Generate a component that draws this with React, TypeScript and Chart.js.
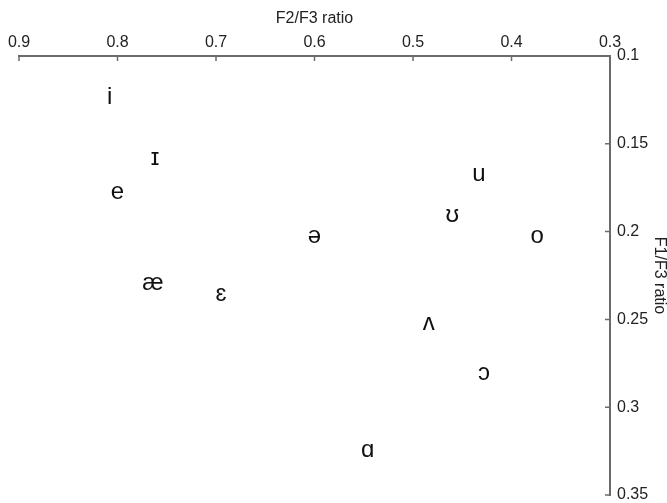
import React, { useEffect, useRef } from "react";
import { Chart, registerables } from "chart.js";

Chart.register(...registerables);

const vowels = ["i", "ɪ", "e", "ə", "æ", "ɛ", "u", "ʊ", "o", "ʌ", "ɔ", "ɑ"];
const f2f3 = [0.808, 0.762, 0.8, 0.6, 0.764, 0.695, 0.433, 0.46, 0.374, 0.484, 0.428, 0.546];
const f1f3 = [0.1235, 0.1585, 0.1775, 0.203, 0.2295, 0.2355, 0.1675, 0.191, 0.2025, 0.252, 0.2805, 0.3245];
const xTicks = [0.9, 0.8, 0.7, 0.6, 0.5, 0.4, 0.3];
const yTicks = [0.1, 0.15, 0.2, 0.25, 0.3, 0.35];

const FONT = "'Liberation Sans', Arial, sans-serif";
const AXIS_COLOR = "#6b6b6b";
const TEXT_COLOR = "#222";

const labelPlugin = {
  id: "vowelLabels",
  afterDatasetsDraw(chart: any) {
    const ctx = chart.ctx;
    const meta = chart.getDatasetMeta(0);
    ctx.save();
    ctx.fillStyle = "#111";
    ctx.font = `24px ${FONT}`;
    ctx.textAlign = "center";
    ctx.textBaseline = "middle";
    meta.data.forEach((el: any, i: number) => {
      ctx.fillText(vowels[i], el.x, el.y);
    });
    ctx.restore();
  },
};

const tickPlugin = {
  id: "innerTicks",
  afterDraw(chart: any) {
    const ctx = chart.ctx;
    const xs = chart.scales.x;
    const ys = chart.scales.y;
    const area = chart.chartArea;
    ctx.save();
    ctx.strokeStyle = AXIS_COLOR;
    ctx.lineWidth = 1.5;
    ctx.beginPath();
    xTicks.forEach((v) => {
      const px = xs.getPixelForValue(v);
      ctx.moveTo(px, area.top);
      ctx.lineTo(px, area.top + 5);
    });
    yTicks.forEach((v) => {
      const py = ys.getPixelForValue(v);
      ctx.moveTo(area.right, py);
      ctx.lineTo(area.right - 5, py);
    });
    ctx.stroke();
    ctx.restore();
  },
};

export default function App() {
  const ref = useRef<HTMLCanvasElement>(null);
  useEffect(() => {
    document.body.style.margin = "0";
    const points = f2f3.map((x, i) => ({ x, y: f1f3[i] }));
    const chart = new Chart(ref.current!, {
      type: "scatter",
      data: {
        datasets: [
          {
            data: points,
            pointRadius: 0,
            pointHoverRadius: 0,
          },
        ],
      },
      options: {
        animation: false,
        responsive: false,
        maintainAspectRatio: false,
        layout: { padding: { left: 19, right: 0, top: 0, bottom: 8 } },
        plugins: { legend: { display: false }, tooltip: { enabled: false } },
        scales: {
          x: {
            type: "linear",
            position: "top",
            reverse: true,
            min: 0.3,
            max: 0.9,
            afterBuildTicks: (s: any) => {
              s.ticks = xTicks.map((v) => ({ value: v }));
            },
            afterFit: (s: any) => {
              s.height = 56;
              s.paddingLeft = 0;
              s.paddingRight = 0;
            },
            ticks: {
              color: TEXT_COLOR,
              font: { family: FONT, size: 16 },
              padding: 4,
              maxRotation: 0,
              callback: (v: any) => String(Math.round(Number(v) * 100) / 100),
            },
            grid: { display: false, drawOnChartArea: false, drawTicks: false },
            border: { display: true, color: AXIS_COLOR, width: 2 },
            title: {
              display: true,
              text: "F2/F3 ratio",
              color: TEXT_COLOR,
              font: { family: FONT, size: 16 },
              padding: { top: 9, bottom: 0 },
            },
          },
          y: {
            type: "linear",
            position: "right",
            reverse: true,
            min: 0.1,
            max: 0.35,
            afterBuildTicks: (s: any) => {
              s.ticks = yTicks.map((v) => ({ value: v }));
            },
            afterFit: (s: any) => {
              s.width = 57;
              s.paddingTop = 0;
              s.paddingBottom = 0;
            },
            ticks: {
              color: TEXT_COLOR,
              font: { family: FONT, size: 16 },
              padding: 7,
              callback: (v: any) => String(Math.round(Number(v) * 100) / 100),
            },
            grid: { display: false, drawOnChartArea: false, drawTicks: false },
            border: { display: true, color: AXIS_COLOR, width: 2 },
            title: {
              display: true,
              text: "F1/F3 ratio",
              color: TEXT_COLOR,
              font: { family: FONT, size: 16 },
              padding: { top: -2, bottom: 0 },
            },
          },
        },
      },
      plugins: [labelPlugin, tickPlugin],
    });
    return () => chart.destroy();
  }, []);
  return (
    <div style={{ position: "absolute", left: 0, top: 0, width: 667, height: 503 }}>
      <canvas ref={ref} width={667} height={503} style={{ width: 667, height: 503 }} />
    </div>
  );
}
